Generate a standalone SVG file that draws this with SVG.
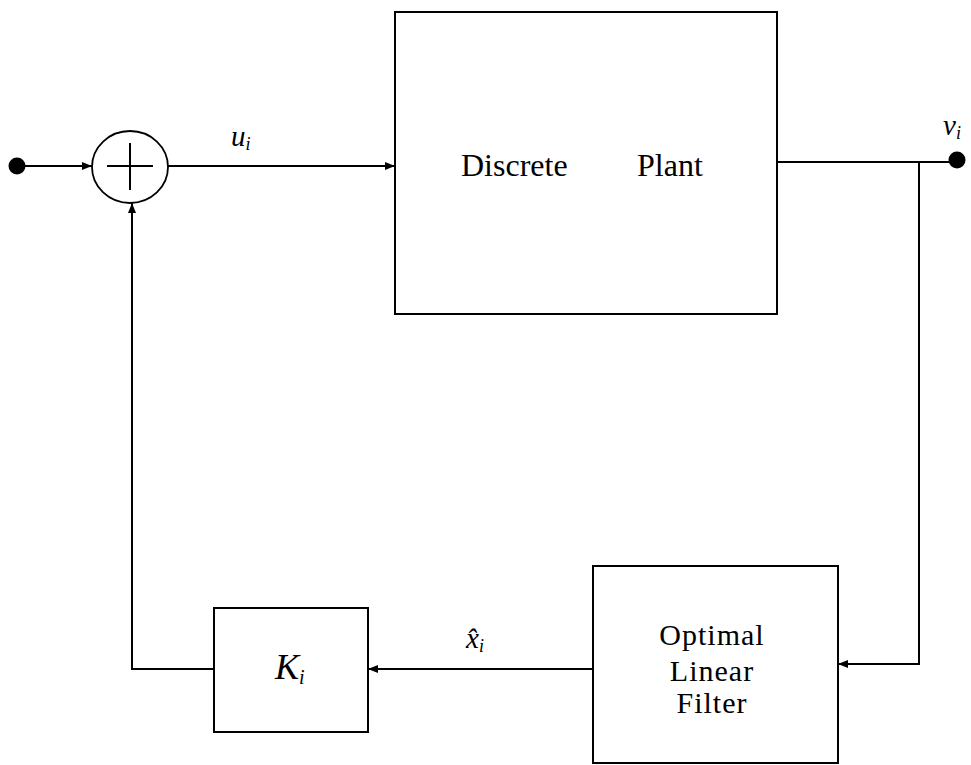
<svg xmlns="http://www.w3.org/2000/svg" width="971" height="765" viewBox="0 0 971 765">
<style>
.box{fill:none;stroke:#000;stroke-width:2}
.ln{fill:none;stroke:#000;stroke-width:2}
</style>
<defs>
<marker id="ah" viewBox="0 0 10 8" refX="10" refY="4" markerWidth="10" markerHeight="8" markerUnits="userSpaceOnUse" orient="auto">
<path d="M0,0 L10,4 L0,8 Z" fill="#000"/>
</marker>
</defs>
<rect width="971" height="765" fill="#fff"/>
<g id="connectors">
<line class="ln" x1="17" y1="166" x2="92" y2="166" marker-end="url(#ah)"/>
<line class="ln" x1="168" y1="166" x2="395" y2="166" marker-end="url(#ah)"/>
<line class="ln" x1="777" y1="162" x2="957" y2="162"/>
<polyline class="ln" points="919,162 919,664 838,664" marker-end="url(#ah)"/>
<line class="ln" x1="593" y1="669" x2="368" y2="669" marker-end="url(#ah)"/>
<polyline class="ln" points="214,669 132,669 132,203" marker-end="url(#ah)"/>
</g>
<g id="input">
<circle cx="17" cy="166" r="8.5" fill="#000"/>
</g>
<g id="output" font-family="Liberation Serif, Times New Roman, serif" font-style="italic">
<circle cx="957" cy="160" r="8.5" fill="#000"/>
<text x="943" y="135" font-size="29">v<tspan font-size="18" dy="4">i</tspan></text>
</g>
<g id="sum">
<ellipse cx="130" cy="167" rx="38" ry="36" fill="#fff" stroke="#000" stroke-width="1.8"/>
<line class="ln" x1="107" y1="166" x2="153" y2="166"/>
<line class="ln" x1="130" y1="143" x2="130" y2="190"/>
</g>
<g id="label-u" font-family="Liberation Serif, Times New Roman, serif" font-style="italic">
<text x="231" y="146" font-size="29">u<tspan font-size="18" dy="4">i</tspan></text>
</g>
<g id="plant" font-family="Liberation Serif, Times New Roman, serif">
<rect class="box" x="395" y="12" width="382" height="302"/>
<text x="461" y="176" font-size="32">Discrete</text>
<text x="637" y="176" font-size="32">Plant</text>
</g>
<g id="filter" font-family="Liberation Serif, Times New Roman, serif" font-size="30" text-anchor="middle" letter-spacing="1">
<rect class="box" x="593" y="566" width="245" height="197"/>
<text x="712" y="645">Optimal</text>
<text x="712" y="681">Linear</text>
<text x="712" y="713">Filter</text>
</g>
<g id="label-x" font-family="Liberation Serif, Times New Roman, serif" font-style="italic">
<text x="466" y="648" font-size="29">x&#x302;<tspan font-size="18" dy="4">i</tspan></text>
</g>
<g id="gain" font-family="Liberation Serif, Times New Roman, serif" font-style="italic">
<rect class="box" x="214" y="608" width="154" height="124"/>
<text x="275" y="679" font-size="36">K<tspan font-size="20" dy="5">i</tspan></text>
</g>
</svg>
